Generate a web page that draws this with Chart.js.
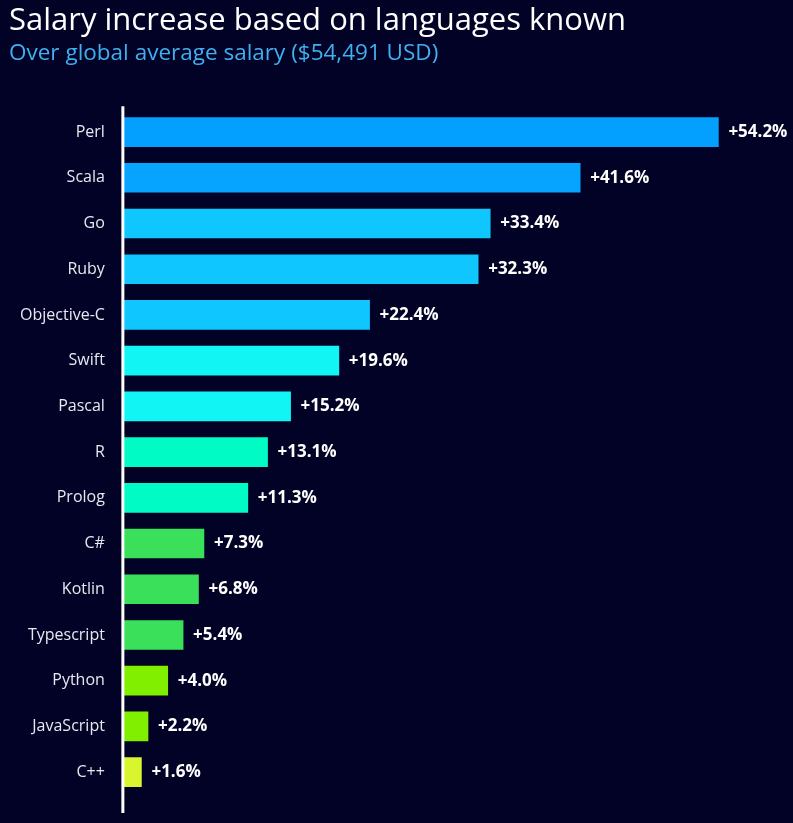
<!DOCTYPE html>
<html>
<head>
<meta charset="utf-8">
<script src="https://cdn.jsdelivr.net/npm/chart.js@4"></script>
<style>
  html, body { margin: 0; padding: 0; background: #020226; }
  #wrap { width: 793px; height: 823px; }
</style>
</head>
<body>
<div id="wrap"><canvas id="salario"></canvas></div>
<script>
const linguagens = ['Perl', 'Scala', 'Go', 'Ruby', 'Objective-C', 'Swift', 'Pascal', 'R', 'Prolog', 'C#', 'Kotlin', 'Typescript', 'Python', 'JavaScript', 'C++'];
const aumento = [54.2, 41.6, 33.4, 32.3, 22.4, 19.6, 15.2, 13.1, 11.3, 7.3, 6.8, 5.4, 4.0, 2.2, 1.6];
const cores = [
  '#03a0ff', '#06a4ff', '#10c6ff', '#10c6ff', '#10c6ff',
  '#12f5f5', '#12f5f5', '#00fcc4', '#00fcc4',
  '#3ae05a', '#3ae05a', '#3ae05a',
  '#80ef00', '#80ef00', '#d9f52e'
];

// rotulos "+xx.x%" na ponta de cada barra
const rotulos = {
  id: 'rotulos',
  afterDatasetsDraw(chart) {
    const ctx = chart.ctx;
    const meta = chart.getDatasetMeta(0);
    ctx.save();
    ctx.font = 'bold 17px "Open Sans"';
    ctx.fillStyle = '#ffffff';
    ctx.textBaseline = 'middle';
    meta.data.forEach((bar, i) => {
      ctx.fillText('+' + aumento[i].toFixed(1) + '%', bar.x + 10, bar.y);
    });
    // eixo vertical branco
    const a = chart.chartArea;
    ctx.strokeStyle = '#ffffff';
    ctx.lineWidth = 3;
    ctx.beginPath();
    ctx.moveTo(a.left - 1, a.top - 3);
    ctx.lineTo(a.left - 1, a.bottom + 18);
    ctx.stroke();
    ctx.restore();
  }
};

new Chart(document.getElementById('salario'), {
  type: 'bar',
  data: {
    labels: linguagens,
    datasets: [{
      data: aumento,
      backgroundColor: cores,
      borderWidth: 0,
      barThickness: 29
    }]
  },
  options: {
    indexAxis: 'y',
    responsive: true,
    maintainAspectRatio: false,
    animation: false,
    layout: { padding: { left: 9, right: 11, top: 3, bottom: 28 } },
    plugins: {
      legend: { display: false },
      tooltip: { enabled: false },
      title: {
        display: true,
        text: 'Salary increase based on languages known',
        align: 'start',
        color: '#ffffff',
        font: { family: 'Open Sans', size: 31, weight: 'normal' },
        padding: { top: 0, bottom: 0 }
      },
      subtitle: {
        display: true,
        text: 'Over global average salary ($54,491 USD)',
        align: 'start',
        color: '#3fb0f0',
        font: { family: 'Open Sans', size: 22.5 },
        padding: { top: 0, bottom: 42 }
      }
    },
    scales: {
      x: {
        display: false,
        min: 0,
        max: 60
      },
      y: {
        grid: { display: false },
        border: { display: false },
        ticks: {
          color: '#e8e8f0',
          font: { family: 'Open Sans', size: 16 },
          padding: 11
        }
      }
    }
  },
  plugins: [rotulos]
});
</script>
</body>
</html>
